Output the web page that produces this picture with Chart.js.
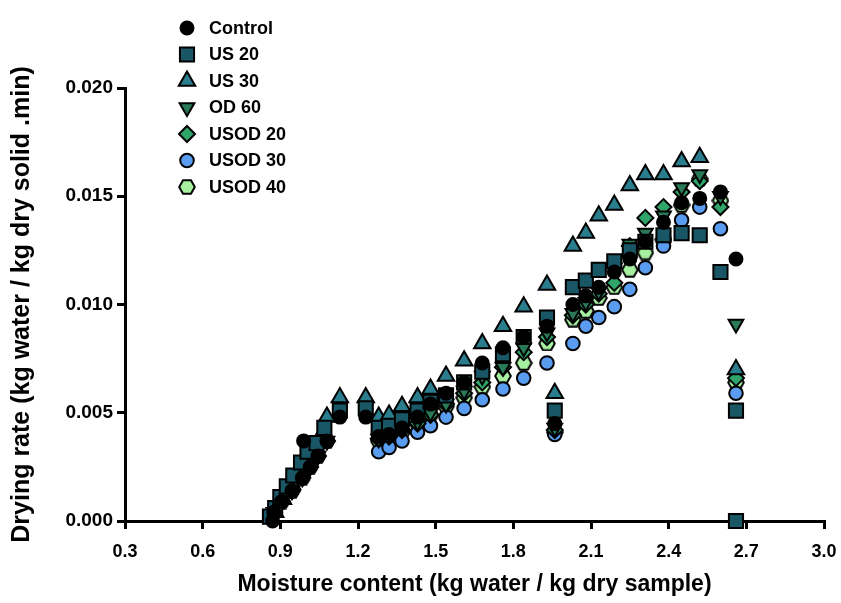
<!DOCTYPE html>
<html>
<head>
<meta charset="utf-8">
<title>Drying rate vs moisture content</title>
<script src="https://cdn.jsdelivr.net/npm/chart.js@4.4.1/dist/chart.umd.min.js"></script>
<style>
  html, body { margin: 0; padding: 0; background: #fff; }
  #wrap { width: 841px; height: 603px; }
</style>
</head>
<body>
<div id="wrap"><canvas id="dryingChart" width="841" height="603"></canvas></div>
<script>
// values (x = moisture content, y = drying rate)
const controlX = [0.87, 0.875, 0.905, 0.945, 0.985, 1.015, 1.045, 0.99, 1.08, 1.13, 1.23, 1.28, 1.32, 1.37, 1.43, 1.48, 1.54, 1.61, 1.68, 1.76, 1.84, 1.93, 1.96, 2.03, 2.08, 2.13, 2.19, 2.25, 2.31, 2.38, 2.45, 2.52, 2.60, 2.66];
const controlY = [0.0000, 0.0004, 0.0009, 0.0014, 0.0020, 0.0025, 0.0030, 0.0037, 0.0037, 0.0048, 0.0048, 0.0039, 0.0040, 0.0043, 0.0048, 0.0054, 0.0059, 0.0064, 0.0073, 0.0080, 0.0085, 0.0090, 0.0045, 0.0100, 0.0104, 0.0108, 0.0115, 0.0121, 0.0129, 0.0138, 0.0147, 0.0149, 0.0152, 0.0121];

const us20X = [0.86, 0.88, 0.90, 0.925, 0.95, 0.98, 1.005, 1.04, 1.07, 1.13, 1.23, 1.28, 1.32, 1.37, 1.43, 1.48, 1.54, 1.61, 1.68, 1.76, 1.84, 1.93, 1.96, 2.03, 2.08, 2.13, 2.19, 2.25, 2.31, 2.38, 2.45, 2.52, 2.60, 2.66, 2.66];
const us20Y = [0.0002, 0.0006, 0.0011, 0.0016, 0.0021, 0.0027, 0.0032, 0.0036, 0.0043, 0.0051, 0.0052, 0.0043, 0.0044, 0.0047, 0.0051, 0.0055, 0.0058, 0.0064, 0.0069, 0.0077, 0.0085, 0.0094, 0.0051, 0.0108, 0.0111, 0.0116, 0.0120, 0.0125, 0.0129, 0.0132, 0.0133, 0.0132, 0.0115, 0.0051, 0.0000];

const us30X = [0.88, 0.91, 0.945, 0.975, 1.015, 1.045, 1.08, 1.13, 1.23, 1.28, 1.32, 1.37, 1.43, 1.48, 1.54, 1.61, 1.68, 1.76, 1.84, 1.93, 1.96, 2.03, 2.08, 2.13, 2.19, 2.25, 2.31, 2.38, 2.45, 2.52, 2.66];
const us30Y = [0.0004, 0.0010, 0.0017, 0.0024, 0.0030, 0.0037, 0.0048, 0.0057, 0.0057, 0.0048, 0.0049, 0.0053, 0.0057, 0.0061, 0.0067, 0.0074, 0.0082, 0.0090, 0.0099, 0.0109, 0.0059, 0.0127, 0.0133, 0.0141, 0.0146, 0.0155, 0.0160, 0.0160, 0.0166, 0.0168, 0.0070];

const od60X = [0.875, 0.905, 0.945, 0.985, 1.015, 1.045, 1.08, 1.28, 1.32, 1.37, 1.43, 1.48, 1.54, 1.61, 1.68, 1.76, 1.84, 1.93, 1.96, 2.03, 2.08, 2.13, 2.19, 2.25, 2.31, 2.38, 2.45, 2.52, 2.60, 2.66];
const od60Y = [0.0004, 0.0009, 0.0014, 0.0020, 0.0025, 0.0030, 0.0037, 0.0038, 0.0040, 0.0043, 0.0046, 0.0050, 0.0054, 0.0060, 0.0067, 0.0071, 0.0080, 0.0087, 0.0043, 0.0096, 0.0101, 0.0106, 0.0117, 0.0128, 0.0133, 0.0141, 0.0154, 0.0160, 0.0150, 0.0091];

const usod20X = [0.875, 0.905, 0.945, 0.985, 1.015, 1.045, 1.08, 1.28, 1.32, 1.37, 1.43, 1.48, 1.54, 1.61, 1.68, 1.76, 1.84, 1.93, 1.96, 2.03, 2.08, 2.13, 2.19, 2.25, 2.31, 2.38, 2.45, 2.52, 2.60, 2.66];
const usod20Y = [0.0004, 0.0009, 0.0014, 0.0020, 0.0025, 0.0030, 0.0037, 0.0038, 0.0039, 0.0042, 0.0045, 0.0049, 0.0054, 0.0059, 0.0064, 0.0071, 0.0078, 0.0085, 0.0042, 0.0095, 0.0100, 0.0105, 0.0110, 0.0127, 0.0140, 0.0145, 0.0152, 0.0157, 0.0145, 0.0066];

const usod30X = [0.875, 0.905, 0.945, 0.985, 1.015, 1.045, 1.08, 1.28, 1.32, 1.37, 1.43, 1.48, 1.54, 1.61, 1.68, 1.76, 1.84, 1.93, 1.96, 2.03, 2.08, 2.13, 2.19, 2.25, 2.31, 2.38, 2.45, 2.52, 2.60, 2.66];
const usod30Y = [0.0004, 0.0009, 0.0014, 0.0020, 0.0025, 0.0030, 0.0037, 0.0032, 0.0034, 0.0037, 0.0041, 0.0044, 0.0048, 0.0052, 0.0056, 0.0061, 0.0066, 0.0073, 0.0040, 0.0082, 0.0090, 0.0094, 0.0099, 0.0107, 0.0117, 0.0127, 0.0139, 0.0145, 0.0135, 0.0059];

const usod40X = [0.875, 0.905, 0.945, 0.985, 1.015, 1.045, 1.08, 1.28, 1.32, 1.37, 1.43, 1.48, 1.54, 1.61, 1.68, 1.76, 1.84, 1.93, 1.96, 2.03, 2.08, 2.13, 2.19, 2.25, 2.31, 2.38, 2.45, 2.52, 2.60, 2.66];
const usod40Y = [0.0004, 0.0009, 0.0014, 0.0020, 0.0025, 0.0030, 0.0037, 0.0037, 0.0038, 0.0041, 0.0045, 0.0049, 0.0053, 0.0057, 0.0062, 0.0067, 0.0073, 0.0082, 0.0041, 0.0093, 0.0097, 0.0103, 0.0108, 0.0116, 0.0124, 0.0130, 0.0146, 0.0158, 0.0148, 0.0064];

const seriesNames = ['Control', 'US 20', 'US 30', 'OD 60', 'USOD 20', 'USOD 30', 'USOD 40'];
const xTicks = ['0.3', '0.6', '0.9', '1.2', '1.5', '1.8', '2.1', '2.4', '2.7', '3.0'];
const yTicks = ['0.000', '0.005', '0.010', '0.015', '0.020'];

const FONT = '"Liberation Sans", Arial, sans-serif';

function toPoints(xs, ys) {
  return xs.map((x, i) => ({ x: x, y: ys[i] }));
}

// hexagon marker for USOD 40 (no built-in style for it)
function makeHexagon(fill) {
  const c = document.createElement('canvas');
  c.width = 18;
  c.height = 16;
  const g = c.getContext('2d');
  g.beginPath();
  g.moveTo(1.2, 8);
  g.lineTo(5, 1.3);
  g.lineTo(13, 1.3);
  g.lineTo(16.8, 8);
  g.lineTo(13, 14.7);
  g.lineTo(5, 14.7);
  g.closePath();
  g.fillStyle = fill;
  g.fill();
  g.lineWidth = 2;
  g.strokeStyle = '#000';
  g.stroke();
  return c;
}

const styles = [
  { color: '#000000', shape: 'circle', r: 6.5, rot: 0 },
  { color: '#1a5766', shape: 'rect', r: 10, rot: 0 },
  { color: '#2a7d8c', shape: 'triangle', r: 9.5, rot: 0 },
  { color: '#2a7a58', shape: 'triangle', r: 8.5, rot: 180 },
  { color: '#2fa56a', shape: 'rectRot', r: 8, rot: 0 },
  { color: '#5a9cf0', shape: 'circle', r: 6.8, rot: 0 },
  { color: '#a6f0a0', shape: makeHexagon('#a6f0a0'), r: 7, rot: 0 }
];

const seriesData = [
  toPoints(controlX, controlY),
  toPoints(us20X, us20Y),
  toPoints(us30X, us30Y),
  toPoints(od60X, od60Y),
  toPoints(usod20X, usod20Y),
  toPoints(usod30X, usod30Y),
  toPoints(usod40X, usod40Y)
];

const datasets = seriesNames.map((name, i) => ({
  label: name,
  data: seriesData[i],
  pointStyle: styles[i].shape,
  pointRadius: styles[i].r,
  pointHoverRadius: styles[i].r,
  pointRotation: styles[i].rot,
  pointBackgroundColor: styles[i].color,
  pointBorderColor: '#000',
  pointBorderWidth: 2,
  backgroundColor: styles[i].color,
  borderColor: '#000',
  clip: false
}));

// legend sits in the top-left corner, partly above the plot area
const cornerLegend = {
  id: 'cornerLegend',
  afterDraw(chart) {
    const ctx = chart.ctx;
    const markX = 187, textX = 209, top = 28, gap = 26.5;
    chart.data.datasets.forEach((ds, i) => {
      const y = top + i * gap;
      ctx.save();
      ctx.fillStyle = ds.pointBackgroundColor;
      ctx.strokeStyle = '#000';
      ctx.lineWidth = 2;
      Chart.helpers.drawPoint(ctx, {
        pointStyle: ds.pointStyle,
        rotation: ds.pointRotation,
        radius: ds.pointRadius,
        borderWidth: 2
      }, markX, y);
      ctx.fillStyle = '#000';
      ctx.font = 'bold 18px ' + FONT;
      ctx.textAlign = 'left';
      ctx.textBaseline = 'middle';
      ctx.fillText(ds.label, textX, y + 1);
      ctx.restore();
    });
  }
};

const axisGrid = {
  display: true,
  drawOnChartArea: false,
  drawTicks: true,
  tickLength: 8,
  tickWidth: 3,
  tickColor: '#000',
  color: '#000',
  lineWidth: 3
};

const ctx = document.getElementById('dryingChart').getContext('2d');

new Chart(ctx, {
  type: 'scatter',
  data: { datasets: datasets },
  options: {
    responsive: false,
    animation: false,
    devicePixelRatio: 1,
    layout: { padding: { left: 0, top: 88, right: 17, bottom: 0 } },
    plugins: {
      legend: { display: false },
      tooltip: { enabled: false }
    },
    scales: {
      x: {
        type: 'linear',
        min: 0.3,
        max: 3.0,
        afterFit(scale) {
          scale.height = 82;
          scale.paddingLeft = 0;
          scale.paddingRight = 0;
        },
        ticks: {
          stepSize: 0.3,
          autoSkip: false,
          maxRotation: 0,
          color: '#000',
          padding: 12,
          font: { family: FONT, size: 18, weight: 'bold' },
          callback: (v, i) => xTicks[i]
        },
        grid: axisGrid,
        border: { display: true, color: '#000', width: 3 },
        title: {
          display: true,
          text: 'Moisture content (kg water / kg dry sample)',
          color: '#000',
          font: { family: FONT, size: 23, weight: 'bold' },
          padding: { top: 0, bottom: 5 }
        }
      },
      y: {
        type: 'linear',
        min: 0,
        max: 0.02,
        afterFit(scale) {
          scale.width = 125;
          scale.paddingTop = 0;
          scale.paddingBottom = 0;
        },
        ticks: {
          stepSize: 0.005,
          color: '#000',
          padding: 4,
          font: { family: FONT, size: 19, weight: 'bold' },
          callback: (v, i) => yTicks[i]
        },
        grid: axisGrid,
        border: { display: true, color: '#000', width: 3 },
        title: {
          display: true,
          text: 'Drying rate (kg water / kg dry solid .min)',
          color: '#000',
          font: { family: FONT, size: 25, weight: 'bold' },
          padding: { top: 7, bottom: 0 }
        }
      }
    }
  },
  plugins: [cornerLegend]
});
</script>
</body>
</html>
